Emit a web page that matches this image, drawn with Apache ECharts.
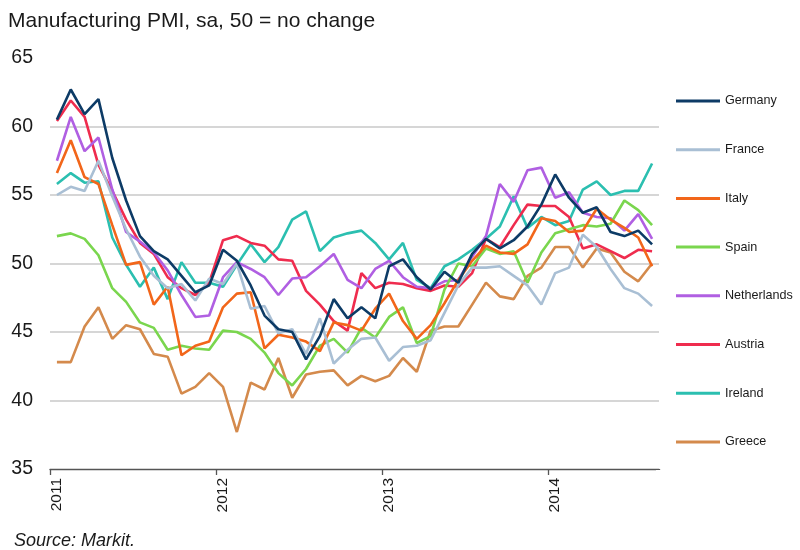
<!DOCTYPE html>
<html><head><meta charset="utf-8">
<script src="https://cdn.jsdelivr.net/npm/echarts@6/dist/echarts.min.js"></script>
<style>html,body{margin:0;padding:0;background:#fff}#c{width:800px;height:550px}</style>
</head><body><div id="c"></div>
<script>
const months = [
 '2011-01','2011-02','2011-03','2011-04','2011-05','2011-06','2011-07','2011-08','2011-09','2011-10','2011-11','2011-12',
 '2012-01','2012-02','2012-03','2012-04','2012-05','2012-06','2012-07','2012-08','2012-09','2012-10','2012-11','2012-12',
 '2013-01','2013-02','2013-03','2013-04','2013-05','2013-06','2013-07','2013-08','2013-09','2013-10','2013-11','2013-12',
 '2014-01','2014-02','2014-03','2014-04','2014-05','2014-06','2014-07','2014-08'];
const yTicks = [35, 40, 45, 50, 55, 60, 65];
const germany = [60.5,62.7,60.9,62.0,57.7,54.6,52.0,50.9,50.3,49.1,47.9,48.4,
 51.0,50.2,48.4,46.2,45.2,45.0,43.0,44.7,47.4,46.0,46.8,46.0,
 49.8,50.3,49.0,48.1,49.4,48.6,50.7,51.8,51.1,51.7,52.7,54.3,
 56.5,54.8,53.7,54.1,52.3,52.0,52.4,51.4];
const france = [55.0,55.6,55.3,57.5,54.9,52.5,50.5,49.1,48.2,48.5,47.3,48.9,
 48.5,50.0,46.7,46.9,44.9,45.2,43.4,46.0,42.7,43.7,44.5,44.6,
 42.9,43.9,44.0,44.4,46.4,48.4,49.7,49.7,49.8,49.1,48.4,47.0,
 49.3,49.7,52.1,51.2,49.6,48.2,47.8,46.9];
const italy = [56.6,59.0,56.3,55.8,52.8,49.9,50.1,47.0,48.3,43.3,44.0,44.3,
 46.8,47.8,47.9,43.8,44.8,44.6,44.3,43.6,45.7,45.5,45.1,46.7,
 47.8,45.8,44.5,45.5,47.1,48.8,50.2,51.3,50.8,50.7,51.4,53.3,
 53.1,52.3,52.4,54.0,53.2,52.6,51.9,49.8];
const spain = [52.0,52.2,51.8,50.6,48.2,47.2,45.7,45.3,43.7,44.0,43.8,43.7,
 45.1,45.0,44.5,43.5,42.0,41.1,42.3,44.0,44.5,43.5,45.3,44.6,
 46.1,46.8,44.2,44.7,48.1,50.0,49.8,51.1,50.7,50.9,48.6,50.8,
 52.2,52.5,52.8,52.7,52.9,54.6,53.9,52.8];
const netherlands = [57.5,60.7,58.2,59.2,55.4,52.3,51.6,50.8,49.5,47.7,46.1,46.2,
 49.0,50.1,49.6,49.0,47.7,48.9,49.0,49.8,50.7,48.8,48.2,49.6,
 50.2,49.0,48.3,48.2,48.7,48.8,50.5,52.0,55.8,54.5,56.8,57.0,
 54.8,55.2,53.7,53.4,53.3,52.4,53.6,51.8];
const austria = [60.4,61.9,60.7,57.2,55.3,53.2,51.5,50.7,49.0,48.2,47.7,48.6,
 51.7,52.0,51.5,51.3,50.3,50.2,48.0,47.0,45.8,45.1,49.3,48.2,
 48.6,48.5,48.2,48.0,48.4,48.3,49.3,51.8,51.2,52.8,54.3,54.2,
 54.2,53.4,51.1,51.4,50.9,50.4,51.0,50.9];
const ireland = [55.8,56.6,55.9,56.0,51.9,49.9,48.3,49.7,47.4,50.1,48.6,48.6,
 48.3,49.9,51.4,50.1,51.2,53.2,53.8,50.9,51.9,52.2,52.4,51.5,
 50.3,51.5,48.8,48.2,49.8,50.3,51.0,51.8,52.7,54.9,52.6,53.4,
 52.8,53.1,55.4,56.0,55.0,55.3,55.3,57.3];
const greece = [42.8,42.8,45.4,46.8,44.5,45.5,45.2,43.4,43.2,40.5,41.0,42.0,
 41.0,37.7,41.3,40.8,43.1,40.2,41.9,42.1,42.2,41.1,41.8,41.4,
 41.8,43.1,42.1,45.1,45.4,45.4,47.0,48.6,47.6,47.4,49.1,49.7,
 51.2,51.2,49.7,51.1,50.8,49.4,48.7,50.0];

const seriesDefs = [
  ['Germany', germany, '#0d3b66'],
  ['France', france, '#a9bfd4'],
  ['Italy', italy, '#f2661a'],
  ['Spain', spain, '#7ad64e'],
  ['Netherlands', netherlands, '#b05fe2'],
  ['Austria', austria, '#ef2c4e'],
  ['Ireland', ireland, '#2bbfb0'],
  ['Greece', greece, '#d48a4c']
];

const FONT = 'Liberation Sans, Arial, sans-serif';
const gridL = 50, gridR = 141, gridT = 58, gridB = 81;
const chart = echarts.init(document.getElementById('c'), null, {renderer: 'canvas'});
const yearStart = (i) => i % 12 === 0;
chart.setOption({
  animation: false,
  backgroundColor: '#fff',
  textStyle: {fontFamily: FONT},
  title: [
    {text: 'Manufacturing PMI, sa, 50 = no change', left: 3, top: 6,
     textStyle: {fontSize: 21, fontWeight: 'normal', color: '#1a1a1a', fontFamily: FONT}},
    {text: 'Source: Markit.', left: 9, top: 527,
     textStyle: {fontSize: 18, fontWeight: 'normal', fontStyle: 'italic', color: '#1a1a1a', fontFamily: FONT}}
  ],
  grid: {left: gridL, right: gridR, top: gridT, bottom: gridB, containLabel: false},
  legend: {
    orient: 'vertical', left: 671, top: 88,
    icon: 'rect', itemWidth: 44, itemHeight: 3, itemGap: 32.7,
    data: seriesDefs.map(d => d[0]),
    textStyle: {fontSize: 12.6, lineHeight: 16, color: '#1a1a1a', fontFamily: FONT}
  },
  xAxis: {
    type: 'category', data: months, boundaryGap: true,
    axisLine: {lineStyle: {color: '#555', width: 1.3}},
    axisTick: {show: true, interval: (i) => yearStart(i), length: 6, lineStyle: {color: '#555', width: 1.3}},
    axisLabel: {interval: (i) => yearStart(i), rotate: 90, margin: 9, fontSize: 15.5, color: '#1a1a1a',
      formatter: (v) => v.slice(0, 4)},
    splitLine: {show: false}
  },
  yAxis: {
    type: 'value', min: yTicks[0], max: yTicks[yTicks.length - 1], interval: 5,
    axisLine: {show: false}, axisTick: {show: false},
    axisLabel: {fontSize: 19.5, color: '#1a1a1a', margin: 17},
    splitLine: {show: true, showMaxLine: false, showMinLine: false, lineStyle: {color: '#c8c8c8', width: 1.6}}
  },
  graphic: [
    // hide the automatic closing tick at the right end of the category axis
    {type: 'rect', left: 800 - gridR - 3, top: 550 - gridB + 1, shape: {width: 8, height: 8},
     style: {fill: '#fff'}, z: 100}
  ],
  series: seriesDefs.map(d => ({
    name: d[0], type: 'line', data: d[1], color: d[2],
    showSymbol: false, symbol: 'none',
    lineStyle: {width: 2.6, color: d[2]},
    itemStyle: {color: d[2]}
  })).reverse()
});
</script>
</body></html>
